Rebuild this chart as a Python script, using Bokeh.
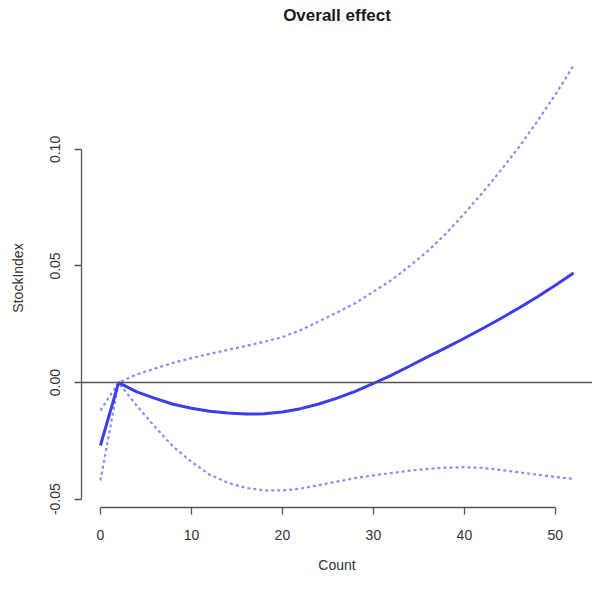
from bokeh.plotting import figure
from bokeh.models import Range1d, FixedTicker, NumeralTickFormatter, Span, ColumnDataSource, Title
from bokeh.embed import file_html
from bokeh.resources import INLINE

# ---- data ----
count = [0, 2, 4, 6, 8, 10, 12, 14, 16, 18, 20, 22, 24, 26, 28, 30, 32, 34, 36, 38, 40, 42, 44, 46, 48, 50, 52]
effect = [-0.027, 0.000, -0.0040, -0.0068, -0.0093, -0.0110, -0.0123, -0.0131, -0.0135, -0.0134,
          -0.0126, -0.0112, -0.0092, -0.0067, -0.0038, -0.0004, 0.0032, 0.0071, 0.0111, 0.0150,
          0.0190, 0.0232, 0.0275, 0.0320, 0.0367, 0.0417, 0.0470]
upper = [-0.012, 0.000, 0.0035, 0.0060, 0.0085, 0.0105, 0.0123, 0.0140, 0.0157, 0.0175,
         0.0195, 0.0225, 0.0262, 0.0300, 0.0340, 0.0390, 0.0440, 0.0500, 0.0565, 0.0640,
         0.0725, 0.0815, 0.0910, 0.1010, 0.1120, 0.1235, 0.1360]
lower = [-0.042, 0.000, -0.0100, -0.0190, -0.0275, -0.0340, -0.0395, -0.0430, -0.0452, -0.0462,
         -0.0463, -0.0455, -0.0440, -0.0425, -0.0410, -0.0398, -0.0388, -0.0378, -0.0370, -0.0365,
         -0.0363, -0.0366, -0.0375, -0.0385, -0.0395, -0.0405, -0.0413]
x_ticks = [0, 10, 20, 30, 40, 50]
y_ticks = [-0.05, 0.00, 0.05, 0.10]
ref_level = 0.0

title = "Overall effect"
x_label = "Count"
y_label = "StockIndex"

src = ColumnDataSource(dict(x=count, fit=effect, hi=upper, lo=lower))

# R-style 4% range extension
def ext(lo_v, hi_v):
    d = (hi_v - lo_v) * 0.04
    return lo_v - d, hi_v + d

xr = ext(min(count), max(count))
yr = ext(min(lower), max(upper))

FONT = "Liberation Sans"

p = figure(width=592, height=575, output_backend="svg", toolbar_location=None,
           x_range=Range1d(*xr), y_range=Range1d(*yr), title=title)
p.min_border_left = 81
p.min_border_right = 0
p.min_border_top = 48
p.min_border_bottom = 63
p.outline_line_color = None
p.xgrid.visible = False
p.ygrid.visible = False
p.background_fill_color = "white"
p.border_fill_color = "white"

p.title.align = "center"
p.title.vertical_align = "top"
p.title.text_font = FONT
p.title.text_font_style = "bold"
p.title.text_font_size = "17px"
p.title.text_color = "#1a1a1a"
p.title.standoff = 8

# empty spacer between the title and the plot area
p.add_layout(Title(text=" ", text_font_size="1px", standoff=15), "above")

axis_color = "#555555"
text_color = "#333333"

for ax in (p.xaxis[0], p.yaxis[0]):
    ax.axis_line_color = axis_color
    ax.axis_line_width = 1.3
    ax.major_tick_line_color = axis_color
    ax.major_tick_line_width = 1.3
    ax.major_tick_out = 7
    ax.major_tick_in = 0
    ax.minor_tick_line_color = None
    ax.major_label_text_font = FONT
    ax.major_label_text_font_size = "14px"
    ax.major_label_text_color = text_color
    ax.axis_label_text_font = FONT
    ax.axis_label_text_font_size = "14px"
    ax.axis_label_text_font_style = "normal"
    ax.axis_label_text_color = text_color

p.xaxis.ticker = FixedTicker(ticks=x_ticks)
p.yaxis.ticker = FixedTicker(ticks=y_ticks)
p.xaxis.bounds = (x_ticks[0], x_ticks[-1])
p.yaxis.bounds = (y_ticks[0], y_ticks[-1])
p.yaxis.formatter = NumeralTickFormatter(format="0.00")
p.yaxis.major_label_orientation = "vertical"
p.xaxis.axis_label = x_label
p.yaxis.axis_label = y_label
p.xaxis.major_label_standoff = 15
p.xaxis.axis_label_standoff = 14
p.yaxis.major_label_standoff = 14
p.yaxis.axis_label_standoff = 22

p.add_layout(Span(location=ref_level, dimension="width", line_color="#555555", line_width=1.5))

p.line("x", "hi", source=src, line_color="#8c8cf2", line_width=2.2, line_dash="3 3")
p.line("x", "lo", source=src, line_color="#8c8cf2", line_width=2.2, line_dash="3 3")
p.line("x", "fit", source=src, line_color="#3c3cf0", line_width=3)

open("out.html", "w").write(file_html(p, INLINE))
